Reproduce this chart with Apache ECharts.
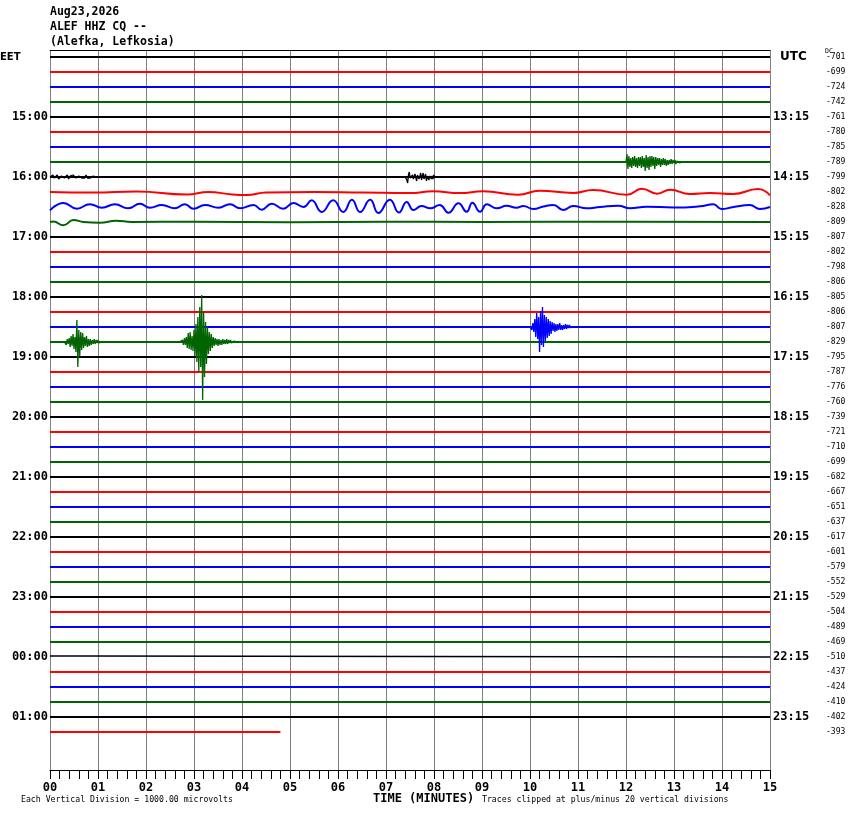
<!DOCTYPE html>
<html><head><meta charset="utf-8">
<script src="https://cdn.jsdelivr.net/npm/echarts@6/dist/echarts.min.js"></script>
<style>html,body{margin:0;padding:0;background:#fff}#c{width:850px;height:814px}</style>
</head><body><div id="c"></div>
<script>
// ---------------- data ----------------
const headerLines = ['Aug23,2026', 'ALEF HHZ CQ --', '(Alefka, Lefkosia)'];
const minuteTicks = ['00','01','02','03','04','05','06','07','08','09','10','11','12','13','14','15'];
const localHourLabels = ['15:00','16:00','17:00','18:00','19:00','20:00','21:00','22:00','23:00','00:00','01:00']; // rows 4,8,...,44
const utcHourLabels = ['13:15','14:15','15:15','16:15','17:15','18:15','19:15','20:15','21:15','22:15','23:15'];
const dcOffsets = [-701,-699,-724,-742,-761,-780,-785,-789,-799,-802,-828,-809,-807,-802,-798,-806,-805,-806,-807,-829,
  -795,-787,-776,-760,-739,-721,-710,-699,-682,-667,-651,-637,-617,-601,-579,-552,-529,-504,-489,-469,
  -510,-437,-424,-410,-402,-393];
const traceColors = ['#000000', '#ff0000', '#0000ff', '#006400'];
const lastTraceEnd = 4.8;   // minutes recorded on the last (partial) trace
const sampleStep = 0.02;    // minutes between event samples
// event amplitudes (px, up positive)
const ev19aStart = 0.30;
const ev19a = [0,2,-3,3,-2,4,-5,6,-4,8,-7,5,-10,22,-25,12,-14,10,-8,9,-6,5,-4,6,-5,3,-4,3,-3,2,-2,3,-2,2,-1,2,-1,1,-1,0];
const ev19bStart = 2.70;
const ev19b = [0,1,-2,2,-3,4,-3,5,-6,9,-7,10,-8,6,-9,12,-14,18,-20,25,-30,35,-25,47,-58,30,-35,20,-22,15,-12,10,-9,8,-6,5,-4,4,-3,3,-4,3,-3,2,-3,3,-2,2,-2,3,-2,2,-1,2,-1,1,-1,1,0];
const ev18Start = 10.00;
const ev18 = [0,2,-3,4,-5,8,-10,14,-12,10,-25,16,-18,20,-20,12,-14,10,-11,8,-9,6,-7,5,-4,4,-5,3,-4,3,-3,4,-3,2,-3,2,-2,3,-2,2,-1,2,-1,1,0];
const ev7Start = 12.00;
const ev7 = [0,8,-7,6,-5,4,-6,5,-4,6,-5,4,-6,5,-4,5,-6,6,-5,4,-9,7,-6,5,-8,6,-5,6,-4,5,-7,5,-4,4,-3,4,-5,3,-3,4,-3,3,-4,2,-3,2,-2,3,-2,2,-1,2,-2,1,-1,2,-1,1,-1,0];
const ev8Start = 7.40;
const ev8 = [0,1,-3,-6,2,5,-1,-3,1,2,-2,-1,3,1,-4,2,3,-2,-1,4,-3,1,4,-2,-1,3,-4,1,2,-3,1,2,-2,1,-2,2,-1,1,0];
const ev8EarlyStart = 0.00;
const ev8Early = [0,1,2,-1,1,2,-2,-1,1,2,-1,1,2,-2,1,-1,2,1,-1,-2,1,2,-1,1,-1,2,-1,1,-1,0,1,-1,0];
// slow oscillations [minute, amplitude px]
const row9Wave = [[0,0],[0.9,-0.5],[1.8,0.5],[2.85,-2.5],[3.3,0],[3.8,-2.5],[4.1,-3],[4.5,-0.5],[5.5,0],[6.5,-0.5],[7.5,-1],[7.98,0.7],[8.54,-1],[9.02,0.7],[9.75,-2.7],[10.2,1.3],[10.9,-1],[11.31,2],[12.02,-2.7],[12.33,3.3],[12.65,-1.7],[12.92,2.3],[13.33,-2],[13.75,-1],[14.23,-2],[14.75,3],[15,-3.3]];
const row10Wave = [[0,-3.3],[0.28,4],[0.56,-1.7],[0.83,2.7],[1.08,-0.7],[1.35,2.7],[1.63,-1.3],[1.875,3.3],[2.08,-0.7],[2.33,2],[2.6,-1.3],[2.81,2.7],[2.99,-1.7],[3.23,2],[3.51,-0.7],[3.75,2.7],[3.96,-1.3],[4.24,2],[4.41,-2.7],[4.62,3.3],[4.86,-1.7],[5.07,4],[5.28,0],[5.45,6.7],[5.66,-5],[5.9,6.7],[6.11,-5],[6.29,7.3],[6.46,-5],[6.67,7.3],[6.84,-6],[7.08,7.3],[7.27,-5.5],[7.43,5],[7.57,-3],[7.74,1],[7.92,-1.3],[8.12,2],[8.3,-5.7],[8.51,3.7],[8.68,-4.7],[8.8,4.3],[8.96,-4.7],[9.1,2.7],[9.31,-1.3],[9.51,1.3],[9.72,-0.7],[9.86,1],[10.07,-2],[10.28,0.5],[10.49,2],[10.69,-3],[10.9,1],[11.18,-1.3],[11.46,0],[11.84,1.3],[12.08,-1.3],[12.43,0.3],[12.99,-0.5],[13.54,0.7],[13.82,2.7],[13.99,-2],[14.24,0],[14.58,2],[14.79,-2],[15,0]];
const row11Wave = [[0,0],[0.07,0.5],[0.28,-3.3],[0.49,2],[0.7,0],[1.04,-0.7],[1.38,1.3],[1.7,0],[3.0,0.3],[5.0,-0.3],[7.0,0.3],[9.0,0],[12.0,0.3],[15,0]];
const row40Trace = [[0,1],[0.7,1],[0.7,0],[15,0]];
// --------------------------------------

const TRACES = dcOffsets.length;
const PX_PER_ROW = 15;
const MONO = 'DejaVu Sans Mono';
const toRow = (r, pts) => pts.map(p => [p[0], r - p[1] / PX_PER_ROW]);
const sampled = (r, start, amps, step) => amps.map((a, i) => [start + i * (step || sampleStep), r - a / PX_PER_ROW]);
const waves = {9: row9Wave, 10: row10Wave, 11: row11Wave};

const series = [];
const base = (r, data, width, smooth) => ({
  type: 'line', xAxisIndex: 2, yAxisIndex: 1, data, symbol: 'none', smooth: smooth || false,
  clip: false, silent: true, animation: false,
  lineStyle: {color: traceColors[r % 4], width: width}
});
for (let r = 0; r < TRACES; r++) {
  const end = r === TRACES - 1 ? lastTraceEnd : 15;
  if (waves[r]) series.push(base(r, toRow(r, waves[r]), 2, 0.5));
  else if (r === 40) series.push(base(r, toRow(r, row40Trace), 1.5));
  else series.push(base(r, [[0, r], [end, r]], 2));
}
series.push(base(19, sampled(19, ev19aStart, ev19a), 1.3));
series.push(base(19, sampled(19, ev19bStart, ev19b), 1.3));
series.push(base(18, sampled(18, ev18Start, ev18), 1.3));
series.push(base(7, sampled(7, ev7Start, ev7), 1.3));
series.push(base(8, sampled(8, ev8Start, ev8, 0.017), 1.3));
series.push(base(8, sampled(8, ev8EarlyStart, ev8Early, 0.03), 1.3));

const hourLabel = (arr) => (v) => (v > 0 && v % 4 === 0 && arr[v / 4 - 1]) ? arr[v / 4 - 1] : '';

const option = {
  backgroundColor: '#ffffff',
  animation: false,
  title: {
    text: headerLines.join('\n'), left: 50, top: 5, padding: 0,
    textStyle: {fontFamily: MONO, fontWeight: 'bold', fontSize: 11.5, lineHeight: 15, color: '#000'}
  },
  grid: [
    {left: 50, right: 80, top: 50, bottom: 44},
    {left: 50, right: 80, top: 57, bottom: 37}
  ],
  xAxis: [
    {gridIndex: 0, type: 'value', min: 0, max: 15, interval: 1, position: 'bottom',
      axisLine: {lineStyle: {color: '#000', width: 1}},
      axisTick: {show: true, length: 9, lineStyle: {color: '#000'}},
      minorTick: {show: true, splitNumber: 5, length: 9, lineStyle: {color: '#000'}},
      splitLine: {show: true, lineStyle: {color: '#808080', width: 1}},
      axisLabel: {formatter: v => minuteTicks[v], fontFamily: MONO, fontWeight: 'bold', fontSize: 12, color: '#000', margin: 12}},
    {gridIndex: 0, type: 'value', min: 0, max: 15, position: 'top',
      axisLine: {show: true, lineStyle: {color: '#000', width: 1}},
      axisTick: {show: false}, axisLabel: {show: false}, splitLine: {show: false}},
    {gridIndex: 1, type: 'value', min: 0, max: 15, show: false}
  ],
  yAxis: [
    {gridIndex: 0, type: 'value', min: 0, max: 1, show: false},
    {gridIndex: 1, type: 'value', min: 0, max: 48, interval: 1, inverse: true, position: 'left',
      axisLine: {show: false}, axisTick: {show: false}, splitLine: {show: false},
      axisLabel: {interval: 0, formatter: hourLabel(localHourLabels), fontFamily: MONO, fontWeight: 'bold', fontSize: 12, color: '#000', margin: 2}},
    {gridIndex: 1, type: 'value', min: 0, max: 48, interval: 1, inverse: true, position: 'right',
      axisLine: {show: false}, axisTick: {show: false}, splitLine: {show: false},
      axisLabel: {interval: 0, formatter: hourLabel(utcHourLabels), fontFamily: MONO, fontWeight: 'bold', fontSize: 12, color: '#000', margin: 3}},
    {gridIndex: 1, type: 'value', min: 0, max: 48, interval: 1, inverse: true, position: 'right', offset: 0,
      axisLine: {show: false}, axisTick: {show: false}, splitLine: {show: false},
      axisLabel: {interval: 0, formatter: v => (v < dcOffsets.length ? String(dcOffsets[v]) : ''), fontFamily: MONO, fontSize: 8, color: '#000', margin: 56}}
  ],
  graphic: [
    {type: 'text', left: 0, top: 52, style: {text: 'EET', font: 'bold 10px "DejaVu Sans"', fill: '#000'}},
    {type: 'text', left: 780, top: 51, style: {text: 'UTC', font: 'bold 12px "DejaVu Sans"', fill: '#000'}},
    {type: 'text', left: 825, top: 48, style: {text: 'DC', font: '6.5px "DejaVu Sans Mono"', fill: '#000'}},
    {type: 'text', left: 21, top: 796, style: {text: 'Each Vertical Division = 1000.00 microvolts', font: '8.2px "DejaVu Sans Mono"', fill: '#000'}},
    {type: 'text', left: 373, top: 793, style: {text: 'TIME (MINUTES)', font: 'bold 12px "DejaVu Sans Mono"', fill: '#000'}},
    {type: 'text', left: 482, top: 796, style: {text: 'Traces clipped at plus/minus 20 vertical divisions', font: '8.2px "DejaVu Sans Mono"', fill: '#000'}}
  ],
  series
};
const chart = echarts.init(document.getElementById('c'), null, {renderer: 'canvas'});
chart.setOption(option);
</script>
</body></html>
